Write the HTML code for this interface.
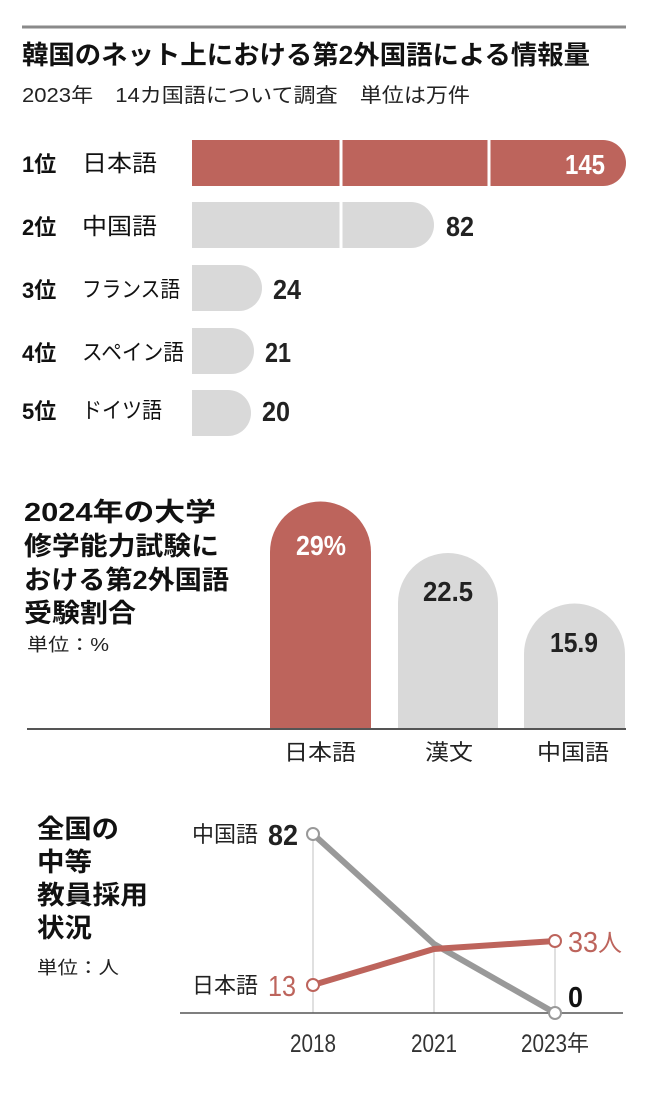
<!DOCTYPE html>
<html><head><meta charset="utf-8"><style>
html,body{margin:0;padding:0;background:#fff;}
svg{display:block;}
.j{font-family:"Liberation Sans","Noto Sans CJK JP",sans-serif;}
.n{font-family:"Liberation Sans",sans-serif;}
</style></head><body>
<svg width="650" height="1116" viewBox="0 0 650 1116" xmlns="http://www.w3.org/2000/svg">
<line x1="22" y1="27" x2="626" y2="27" stroke="#8a8a8a" stroke-width="3"/>
<text class="j" x="22" y="64" font-size="26" font-weight="bold" fill="#111" textLength="568" lengthAdjust="spacingAndGlyphs">韓国のネット上における第2外国語による情報量</text>
<text class="j" x="22" y="102" font-size="20" fill="#222" textLength="448" lengthAdjust="spacingAndGlyphs">2023年　14カ国語について調査　単位は万件</text>

<g class="j" fill="#111">
<text x="22" y="172" font-size="22" font-weight="bold">1位</text><text x="82" y="171" font-size="23" textLength="75" lengthAdjust="spacingAndGlyphs">日本語</text>
<text x="22" y="235" font-size="22" font-weight="bold">2位</text><text x="82" y="234" font-size="23" textLength="75" lengthAdjust="spacingAndGlyphs">中国語</text>
<text x="22" y="298" font-size="22" font-weight="bold">3位</text><text x="82" y="297" font-size="22" textLength="98" lengthAdjust="spacingAndGlyphs">フランス語</text>
<text x="22" y="361" font-size="22" font-weight="bold">4位</text><text x="82" y="360" font-size="22" textLength="102" lengthAdjust="spacingAndGlyphs">スペイン語</text>
<text x="22" y="419" font-size="22" font-weight="bold">5位</text><text x="82" y="418" font-size="22" textLength="80" lengthAdjust="spacingAndGlyphs">ドイツ語</text>
</g>
<path d="M192 140 H603 A23 23 0 0 1 603 186 H192 Z" fill="#bd645c"/>
<path d="M192 202 H411 A23 23 0 0 1 411 248 H192 Z" fill="#d9d9d9"/>
<path d="M192 265 H239 A23 23 0 0 1 239 311 H192 Z" fill="#d9d9d9"/>
<path d="M192 328 H231 A23 23 0 0 1 231 374 H192 Z" fill="#d9d9d9"/>
<path d="M192 390 H228 A23 23 0 0 1 228 436 H192 Z" fill="#d9d9d9"/>
<line x1="341" y1="140" x2="341" y2="186" stroke="#fff" stroke-width="3"/>
<line x1="489" y1="140" x2="489" y2="186" stroke="#fff" stroke-width="3"/>
<line x1="341" y1="202" x2="341" y2="248" stroke="#fff" stroke-width="3"/>
<g class="n" font-size="28" fill="#222" font-weight="bold">
<text x="565" y="174" fill="#fff" textLength="40" lengthAdjust="spacingAndGlyphs">145</text>
<text x="446" y="236" textLength="28" lengthAdjust="spacingAndGlyphs">82</text>
<text x="273" y="299" textLength="28" lengthAdjust="spacingAndGlyphs">24</text>
<text x="265" y="362" textLength="26" lengthAdjust="spacingAndGlyphs">21</text>
<text x="262" y="421" textLength="28" lengthAdjust="spacingAndGlyphs">20</text>
</g>

<g class="j" font-size="26" font-weight="bold" fill="#111">
<text x="24" y="521" textLength="192" lengthAdjust="spacingAndGlyphs">2024年の大学</text>
<text x="24" y="555" textLength="195" lengthAdjust="spacingAndGlyphs">修学能力試験に</text>
<text x="24" y="589" textLength="205" lengthAdjust="spacingAndGlyphs">おける第2外国語</text>
<text x="24" y="622" textLength="112" lengthAdjust="spacingAndGlyphs">受験割合</text>
</g>
<text class="j" x="27" y="651" font-size="18" fill="#222" textLength="82" lengthAdjust="spacingAndGlyphs">単位：%</text>
<path d="M270 729 V552 A50.5 50.5 0 0 1 371 552 V729 Z" fill="#bd645c"/>
<path d="M398 729 V603 A50 50 0 0 1 498 603 V729 Z" fill="#d9d9d9"/>
<path d="M524 729 V654 A50.5 50.5 0 0 1 625 654 V729 Z" fill="#d9d9d9"/>
<line x1="27" y1="729" x2="626" y2="729" stroke="#555" stroke-width="2"/>
<g class="n" font-size="28" font-weight="bold">
<text x="296" y="555" fill="#fff" textLength="50" lengthAdjust="spacingAndGlyphs">29%</text>
<text x="423" y="601" fill="#222" textLength="50" lengthAdjust="spacingAndGlyphs">22.5</text>
<text x="550" y="652" fill="#222" textLength="48" lengthAdjust="spacingAndGlyphs">15.9</text>
</g>
<g class="j" font-size="22" fill="#222">
<text x="284" y="760" textLength="72" lengthAdjust="spacingAndGlyphs">日本語</text>
<text x="425" y="760" textLength="48" lengthAdjust="spacingAndGlyphs">漢文</text>
<text x="537" y="760" textLength="72" lengthAdjust="spacingAndGlyphs">中国語</text>
</g>

<g class="j" font-size="26" font-weight="bold" fill="#111">
<text x="37" y="838" textLength="82" lengthAdjust="spacingAndGlyphs">全国の</text>
<text x="37" y="871" textLength="55" lengthAdjust="spacingAndGlyphs">中等</text>
<text x="37" y="904" textLength="111" lengthAdjust="spacingAndGlyphs">教員採用</text>
<text x="37" y="937" textLength="55" lengthAdjust="spacingAndGlyphs">状況</text>
</g>
<text class="j" x="37" y="974" font-size="18" fill="#222" textLength="82" lengthAdjust="spacingAndGlyphs">単位：人</text>
<g stroke="#ccc" stroke-width="1.2">
<line x1="313" y1="834" x2="313" y2="1013"/><line x1="434" y1="949" x2="434" y2="1013"/><line x1="555" y1="941" x2="555" y2="1013"/>
</g>
<line x1="180" y1="1013" x2="623" y2="1013" stroke="#555" stroke-width="1.5"/>
<polyline points="313,834 434,944 555,1013" fill="none" stroke="#999" stroke-width="6"/>
<polyline points="313,985 434,949 555,941" fill="none" stroke="#bd645c" stroke-width="6"/>
<circle cx="313" cy="834" r="6" fill="#fff" stroke="#999" stroke-width="2"/>
<circle cx="555" cy="1013" r="6" fill="#fff" stroke="#999" stroke-width="2"/>
<circle cx="313" cy="985" r="6" fill="#fff" stroke="#bd645c" stroke-width="2"/>
<circle cx="555" cy="941" r="6" fill="#fff" stroke="#bd645c" stroke-width="2"/>
<g class="j" font-size="22" fill="#222">
<text x="192" y="842" textLength="66" lengthAdjust="spacingAndGlyphs">中国語</text>
<text x="192" y="993" textLength="66" lengthAdjust="spacingAndGlyphs">日本語</text>
</g>
<g class="n" font-size="29">
<text x="268" y="845" fill="#222" font-weight="bold" textLength="30" lengthAdjust="spacingAndGlyphs">82</text>
<text x="268" y="996" fill="#bd645c" textLength="28" lengthAdjust="spacingAndGlyphs">13</text>
<text x="568" y="952" fill="#bd645c" textLength="30" lengthAdjust="spacingAndGlyphs">33</text>
<text class="j" x="598" y="951" fill="#bd645c" font-size="24">人</text>
<text x="568" y="1007" fill="#111" font-weight="bold" textLength="15" lengthAdjust="spacingAndGlyphs">0</text>
</g>
<g class="n" font-size="25" fill="#333">
<text x="290" y="1052" textLength="46" lengthAdjust="spacingAndGlyphs">2018</text>
<text x="411" y="1052" textLength="46" lengthAdjust="spacingAndGlyphs">2021</text>
<text x="521" y="1052" textLength="46" lengthAdjust="spacingAndGlyphs">2023</text>
<text class="j" x="567" y="1051" font-size="22">年</text>
</g>
</svg>
</body></html>
